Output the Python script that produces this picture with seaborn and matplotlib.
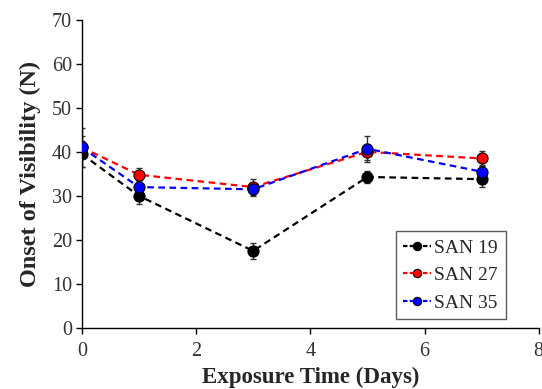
import numpy as np
import pandas as pd
import matplotlib
matplotlib.use("Agg")
import matplotlib.pyplot as plt
import seaborn as sns

days = [0, 1, 3, 5, 7]
san19 = [39.5, 30.0, 17.5, 34.3, 33.8]
san27 = [41.0, 34.8, 32.0, 40.0, 38.5]
san35 = [41.0, 32.0, 31.5, 40.7, 35.5]
err19 = [3.0, 1.8, 1.8, 1.3, 1.8]
err27 = [2.5, 1.5, 1.8, 1.8, 1.8]
err35 = [4.5, 1.5, 1.5, 3.0, 1.5]
names = ["SAN 19", "SAN 27", "SAN 35"]
colors = ["#000000", "#ff0000", "#0000ff"]

sns.set_style("ticks")
plt.rcParams['font.family'] = ['Liberation Serif', 'DejaVu Serif']

df = pd.DataFrame({
    "day": days * 3,
    "val": san19 + san27 + san35,
    "series": sum([[n] * len(days) for n in names], []),
})

fig = plt.figure(figsize=(5.42, 3.89), dpi=100)
ax = fig.add_axes([0.151, 0.157, 0.843, 0.792])

for vals, errs, c in zip([san19, san27, san35], [err19, err27, err35], colors):
    ax.errorbar(days, vals, yerr=errs, fmt='none', ecolor='#333333', elinewidth=1.0,
                capsize=2, capthick=1.0, zorder=2)

sns.lineplot(data=df, x="day", y="val", hue="series", palette=colors, ax=ax,
             marker='o', markersize=8, markeredgecolor='black', markeredgewidth=0.8,
             linewidth=1.6, linestyle=(0, (3, 2)), zorder=3)

ax.set_xlim(0, 8)
ax.set_ylim(0, 70)
ax.set_xticks([0, 2, 4, 6, 8])
ax.set_yticks(range(0, 71, 10))
ax.tick_params(length=4, width=1, labelsize=14.5, colors='black', labelcolor='#333333',
               direction='out')
ax.tick_params(axis='x', pad=6)
ax.tick_params(axis='y', pad=3)
for s in ['left', 'bottom']:
    ax.spines[s].set_linewidth(1.0)
    ax.spines[s].set_color('black')
sns.despine(ax=ax)
ax.set_xlabel("Exposure Time (Days)", fontsize=16.5, fontweight='bold', labelpad=4)
ax.set_ylabel("Onset of Visibility (N)", fontsize=17.5, fontweight='bold', labelpad=8)

leg = ax.legend(loc='lower right', bbox_to_anchor=(0.928, 0.028), frameon=True, fancybox=False,
                edgecolor='#333333', fontsize=14, handlelength=1.4, handletextpad=0.2,
                borderpad=0.4, labelspacing=0.5, borderaxespad=0)
leg.get_frame().set_linewidth(1.0)
for h in leg.get_lines():
    h.set_linestyle((0, (2, 1)))
    h.set_markersize(6)

fig.savefig("out.png", dpi=100)
